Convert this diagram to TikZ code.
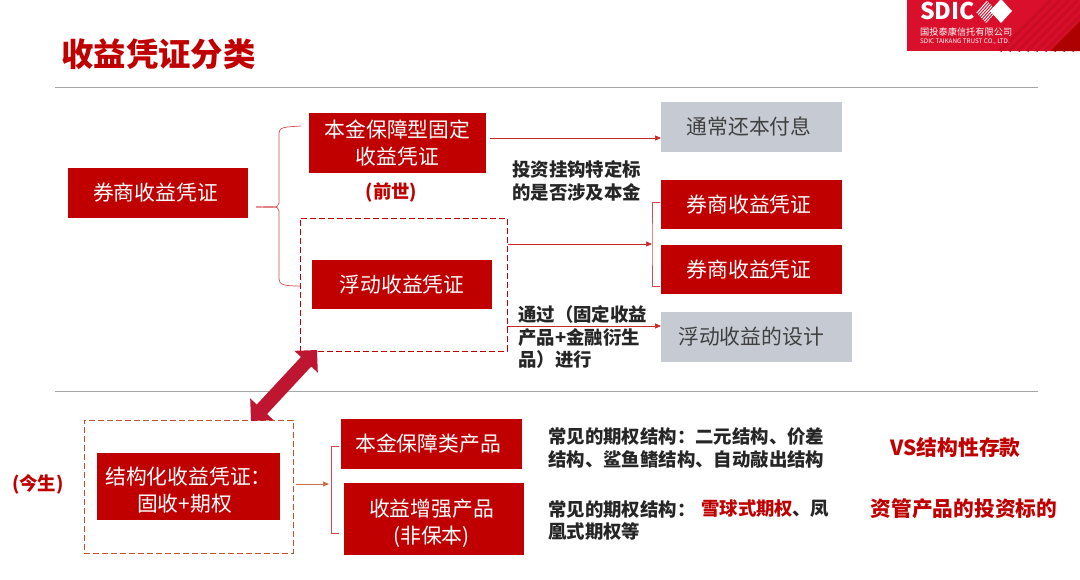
\documentclass[tikz,border=0pt]{standalone}
\usepackage{fontspec}
\setmainfont{Noto Sans CJK SC}
\usepackage{tikz}
\usetikzlibrary{arrows.meta}
\definecolor{boxred}{HTML}{C00000}
\definecolor{boxgray}{HTML}{C6CBD3}
\definecolor{thickred}{HTML}{BE1530}
\definecolor{logored}{HTML}{D90F2B}
\definecolor{logodark}{HTML}{CC0C25}
\definecolor{dashbrown}{HTML}{C0512A}
\begin{document}
\begin{tikzpicture}[x=1pt,y=-1pt]
	\tikzstyle{redbox}=[fill=boxred,text=white,inner sep=0pt,align=center,font=\fontsize{20.8}{27}\selectfont]
	\tikzstyle{graybox}=[fill=boxgray,text=black!75,inner sep=0pt,align=center,font=\fontsize{20.8}{27}\selectfont]
	\tikzstyle{dashbox}=[draw=boxred,line width=0.9pt,dash pattern=on 6pt off 3pt,inner sep=0pt]
	\tikzstyle{note}=[inner sep=0pt,align=left,font=\fontsize{18.4}{22.3}\selectfont\bfseries,text=black!85]
	\tikzstyle{rednote}=[inner sep=0pt,text=boxred,font=\fontsize{18.4}{22}\selectfont\bfseries]
	\tikzstyle{conn}=[draw=boxred!85,line width=0.7pt,-{Triangle[length=6pt,width=5pt]}]
	\tikzstyle{brace}=[draw=boxred!70,line width=0.7pt]
	\useasboundingbox (0,0) rectangle (1080,579);
	\fill[white] (0,0) rectangle (1080,579);
	% logo
	\fill[logored] (907,0) rectangle (1080,51);
	\begin{scope}
		\clip (907,0) rectangle (1080,51);
		\foreach \i in {0,9,...,90}
			\draw[logodark,line width=3.5pt] (1000+\i,51) -- (1051+\i,0);
		\fill[boxred!90!black] (1050,51) -- (1080,21) -- (1080,51) -- cycle;
	\end{scope}
	\begin{scope}
		\clip (986,0) -- (997,11) -- (986,23) -- (975,11) -- cycle;
		\foreach \i in {0,3,...,36}
			\draw[white,line width=1pt] (965+\i,26) -- (991+\i,-3);
	\end{scope}
	\fill[white] (1001,-1) -- (1012,11) -- (1001,23) -- (990,11) -- cycle;
	\node[inner sep=0pt,anchor=west,text=white,font=\fontsize{23}{23}\selectfont\bfseries] (sdic) at (920,11) {SDIC};
	\node[inner sep=0pt,anchor=west,text=white,font=\fontsize{9.2}{10}\selectfont] (cname) at (920,32) {国投泰康信托有限公司};
	\node[inner sep=0pt,anchor=west,text=white,font=\fontsize{6.3}{7}\selectfont] (ename) at (920,41.5) {SDIC TAIKANG TRUST CO., LTD.};
	% title and rules
	\node[inner sep=0pt,text=boxred,font=\fontsize{32.4}{36}\selectfont\bfseries] (title) at (158.5,54) {收益凭证分类};
	\coordinate (r1) at (55,87);
	\coordinate (r2) at (1038,87);
	\coordinate (r3) at (55,391);
	\coordinate (r4) at (1038,391);
	\path[draw=black!35,line width=0.7pt] (r1) -- (r2) (r3) -- (r4);
	% upper boxes
	\node[redbox,minimum width=180pt,minimum height=50pt] (v1) at (158,193) {券商收益凭证\kern5pt};
	\node[redbox,minimum width=177pt,minimum height=60pt] (v2) at (397.5,143) {本金保障型固定\\收益凭证};
	\node[dashbox,minimum width=207pt,minimum height=133pt] (v3) at (403.5,284.5) {};
	\node[redbox,minimum width=180pt,minimum height=49pt] (v4) at (402,284.5) {浮动收益凭证};
	\node[graybox,minimum width=181pt,minimum height=50pt] (v5) at (751.5,127) {通常还本付息\kern5pt};
	\node[redbox,minimum width=181pt,minimum height=49pt] (v6) at (751.5,204.5) {券商收益凭证\kern5pt};
	\node[redbox,minimum width=181pt,minimum height=49pt] (v7) at (751.5,269.5) {券商收益凭证\kern5pt};
	\node[graybox,minimum width=191pt,minimum height=50pt] (v8) at (756.5,337) {浮动收益的设计\kern11pt};
	% upper labels
	\node[rednote] (n1) at (391.5,192) {(前世)};
	\node[note,anchor=west] (n2) at (512,181) {投资挂钩特定标\\的是否涉及本金};
	\node[note,anchor=west] (n3) at (518,337) {通过（固定收益\\产品+金融衍生\\品）进行};
	% upper connectors
	\coordinate (b1) at (256,207);
	\coordinate (b2) at (652,244);
	\coordinate (c1) at (661,138);
	\coordinate (c2) at (301,126);
	\coordinate (c3) at (661,326);
	\coordinate (c4) at (300,286);
	\coordinate (d1) at (660,202);
	\coordinate (d2) at (660,286);
	\path[brace] (b1) .. controls (270,207) and (279,209) .. (279,203) -- (279,133) .. controls (279,127) and (285,127) .. (c2);
	\path[brace] (b1) .. controls (270,207) and (279,205) .. (279,211) -- (279,279) .. controls (279,285) and (285,286) .. (c4);
	\path[brace] (d1) -- (652,202) -- (b2) -- (652,286) -- (d2);
	\path[conn] ([xshift=4pt]v2.east |- c1) -- (c1);
	\path[conn] ([xshift=1pt]v3.east |- b2) -- (b2);
	\path[conn] (v3.east |- c3) -- (c3);
	% lower boxes
	\node[dashbox,draw=dashbrown,minimum width=209pt,minimum height=133pt] (w1) at (188.5,486.5) {};
	\node[redbox,minimum width=183pt,minimum height=67pt] (w2) at (188.5,486.5) {\rule{0pt}{24.5pt}结构化收益凭证：\\固收+期权\kern8pt};
	\node[redbox,minimum width=181pt,minimum height=50pt] (w3) at (431.5,444) {本金保障类产品\kern7pt};
	\node[redbox,minimum width=180pt,minimum height=72pt] (w4) at (434,519) {\rule{0pt}{25.5pt}收益增强产品\kern5pt\\(非保本)\kern5pt};
	% lower labels
	\node[rednote] (n4) at (38,484) {(今生)};
	\node[note,anchor=west] (n5) at (548,448) {常见的期权结构：二元结构、价差\\结构、鲨鱼鳍结构、自动敲出结构};
	\node[note,anchor=west] (n6) at (548,509) {常见的期权结构：};
	\node[rednote,anchor=west] (n7) at (701,509) {雪球式期权};
	\node[note,anchor=west] (n8) at (792,509) {、凤};
	\node[note,anchor=west] (n9) at (548,531) {凰式期权等};
	\node[rednote,font=\fontsize{20.8}{24}\selectfont\bfseries] (n10) at (955.5,448) {VS结构性存款};
	\node[rednote,font=\fontsize{20.7}{24}\selectfont\bfseries] (n11) at (964,509) {资管产品的投资标的};
	% lower connectors
	\coordinate (b3) at (329,484);
	\coordinate (d3) at (339,446);
	\coordinate (d4) at (339,533);
	\path[brace] (d3) -- (331,446) -- (331,533) -- (d4);
	\path[conn,draw=dashbrown!85] ([xshift=3pt]w1.east |- b3) -- (b3);
	% thick arrow
	\coordinate (t1) at (317,350);
	\coordinate (t2) at (251,421);
	\draw[thickred,line width=14pt,{Triangle[length=16pt,width=31pt]}-{Triangle[length=16pt,width=31pt]}] (t1) -- (t2);
\end{tikzpicture}
\end{document}
